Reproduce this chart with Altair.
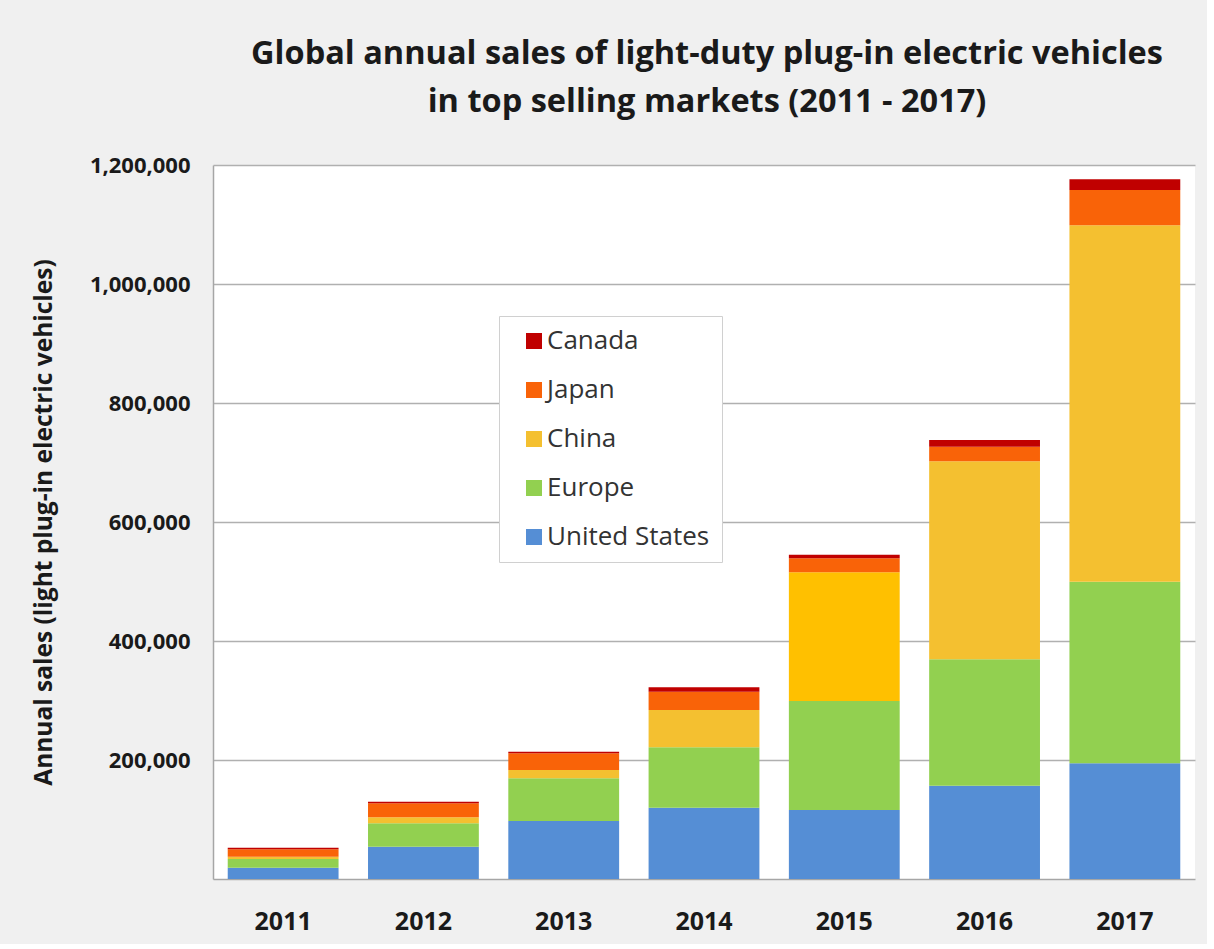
import altair as alt
import pandas as pd

years = ["2011", "2012", "2013", "2014", "2015", "2016", "2017"]
markets = ["Canada", "Japan", "China", "Europe", "United States"]
us = [19000, 54300, 97500, 119800, 116000, 156800, 194500]
europe = [14600, 39300, 71700, 101500, 183200, 212400, 305200]
china = [3900, 10100, 14000, 62700, 216300, 332800, 599000]
japan = [12400, 23500, 28000, 30800, 23500, 24600, 59300]
canada = [2600, 2800, 2800, 7300, 6100, 11200, 18000]
colors = ["#C00000", "#F96308", "#F4C030", "#92D050", "#558ED5"]
tick_values = [200000, 400000, 600000, 800000, 1000000, 1200000]

series = {"United States": us, "Europe": europe, "China": china, "Japan": japan, "Canada": canada}
stack_rank = {"United States": 0, "Europe": 1, "China": 2, "Japan": 3, "Canada": 4}
rows = []
for m, vals in series.items():
    for y, v in zip(years, vals):
        rows.append({"year": y, "market": m, "sales": v, "rank": stack_rank[m]})
df = pd.DataFrame(rows)

FONT = "Open Sans"

chart = alt.Chart(df).mark_bar().encode(
    x=alt.X("year:N", title=None,
            scale=alt.Scale(paddingInner=0.21, paddingOuter=0.105),
            axis=alt.Axis(labelAngle=0, ticks=False, labelPadding=30,
                          labelFont=FONT, labelFontWeight="bold", labelFontSize=25,
                          labelColor="#1a1a1a", domainColor="#a6a6a6", domainWidth=1.5)),
    y=alt.Y("sales:Q", stack="zero",
            title="Annual sales (light plug-in electric vehicles)",
            scale=alt.Scale(domain=[0, 1200000], nice=False),
            axis=alt.Axis(values=tick_values, format=",.0f", ticks=False, labelPadding=23,
                          labelFont=FONT, labelFontWeight="bold", labelFontSize=22,
                          labelColor="#1a1a1a", domainColor="#a6a6a6", domainWidth=1.5,
                          gridColor="#b0b0b0", gridWidth=1.5,
                          titleFont=FONT, titleFontWeight="bold", titleFontSize=24.5,
                          titleColor="#1a1a1a", titlePadding=33)),
    color=alt.condition(
        "datum.year == '2015' && datum.market == 'China'",
        alt.value("#FFC000"),
        alt.Color("market:N", sort=markets,
                  scale=alt.Scale(domain=markets, range=colors),
                  legend=alt.Legend(title=None, orient="none", legendX=286, legendY=151,
                                    fillColor="white", strokeColor="#d0d0d0",
                                    padding=12, symbolOffset=10,
                                    symbolType="square", symbolSize=256, symbolStrokeWidth=0,
                                    labelFont=FONT, labelFontSize=26, labelColor="#333333",
                                    labelLimit=400, labelOffset=0, rowPadding=23))),
    order=alt.Order("rank:Q", sort="ascending"),
).properties(
    width=982,
    height=714,
    title=alt.Title(["Global annual sales of light-duty plug-in electric vehicles",
                     "in top selling markets (2011 - 2017)"],
                    font=FONT, fontSize=32.5, fontWeight="bold", color="#1a1a1a",
                    anchor="middle", frame="group", lineHeight=48, offset=36, dx=3),
    autosize=alt.AutoSizeParams(type="none"),
    padding={"left": 213, "top": 165, "right": 12, "bottom": 65},
    background="#F0F0F0",
).configure_view(fill="white", strokeWidth=0)

chart.save("out.html", embed_options={"renderer": "svg", "actions": False})
